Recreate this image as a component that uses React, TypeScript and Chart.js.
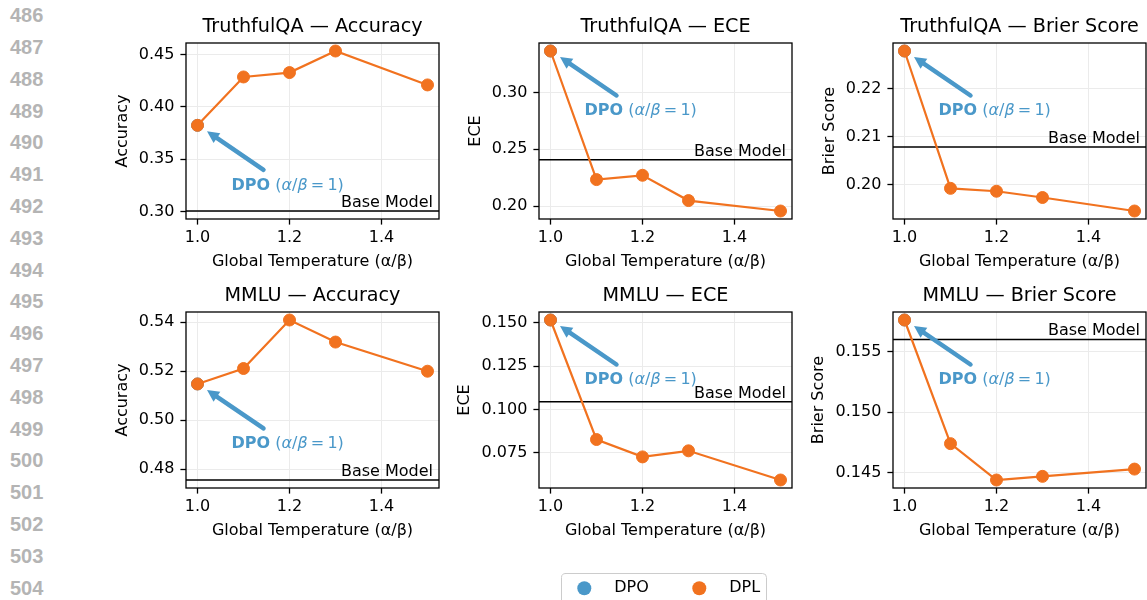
import React, { useEffect, useRef } from "react";
import { Chart, registerables } from "chart.js";

Chart.register(...registerables);

// ---------------- data ----------------
const TEMPERATURES = [1.0, 1.1, 1.2, 1.3, 1.5];
const X_TICKS = [1.0, 1.2, 1.4];
const X_LABEL = "Global Temperature (α/β)";

const DATASET_NAMES = ["TruthfulQA", "MMLU"];
const METRIC_NAMES = ["Accuracy", "ECE", "Brier Score"];
const SERIES_NAMES = ["DPO", "DPL"];

const TQA_ACCURACY = [0.3824, 0.4286, 0.4328, 0.4534, 0.421];
const TQA_ECE = [0.3367, 0.2233, 0.2271, 0.2048, 0.1956];
const TQA_BRIER = [0.2278, 0.1993, 0.1987, 0.1974, 0.1946];
const MMLU_ACCURACY = [0.5148, 0.5211, 0.5409, 0.5319, 0.52];
const MMLU_ECE = [0.1515, 0.0827, 0.0727, 0.0762, 0.0594];
const MMLU_BRIER = [0.1576, 0.1474, 0.1444, 0.1447, 0.1453];

// base model: [accuracy, ece, brier]
const BASE_TQA = [0.3006, 0.2409, 0.2079];
const BASE_MMLU = [0.4756, 0.1044, 0.156];

const TICKS_TQA_ACCURACY = [0.3, 0.35, 0.4, 0.45];
const TICKS_TQA_ECE = [0.2, 0.25, 0.3];
const TICKS_TQA_BRIER = [0.2, 0.21, 0.22];
const TICKS_MMLU_ACCURACY = [0.48, 0.5, 0.52, 0.54];
const TICKS_MMLU_ECE = [0.075, 0.1, 0.125, 0.15];
const TICKS_MMLU_BRIER = [0.145, 0.15, 0.155];

const LINE_NUMBERS = [486, 487, 488, 489, 490, 491, 492, 493, 494, 495, 496, 497, 498, 499, 500, 501, 502, 503, 504];

// ---------------- style / layout ----------------
const FONT = "'DejaVu Sans', sans-serif";
const ORANGE = "#f1721f";
const BLUE = "#4a98c9";
const GRID = "#ebebeb";

const PLOT_W = 256;
const PLOT_H = 176;
const YW = 96; // y-axis box width
const TB = 32; // title block height
const XH = 56; // x-axis box height
const RP = 4;
const COL_LEFT = [186, 539, 893];
const ROW_TOP = [43, 312];

type PanelCfg = {
  row: number;
  col: number;
  values: number[];
  base: number;
  yticks: number[];
  decimals: number;
  legend: boolean;
};

const PANELS: PanelCfg[] = [
  { row: 0, col: 0, values: TQA_ACCURACY, base: BASE_TQA[0], yticks: TICKS_TQA_ACCURACY, decimals: 2, legend: false },
  { row: 0, col: 1, values: TQA_ECE, base: BASE_TQA[1], yticks: TICKS_TQA_ECE, decimals: 2, legend: false },
  { row: 0, col: 2, values: TQA_BRIER, base: BASE_TQA[2], yticks: TICKS_TQA_BRIER, decimals: 2, legend: false },
  { row: 1, col: 0, values: MMLU_ACCURACY, base: BASE_MMLU[0], yticks: TICKS_MMLU_ACCURACY, decimals: 2, legend: false },
  { row: 1, col: 1, values: MMLU_ECE, base: BASE_MMLU[1], yticks: TICKS_MMLU_ECE, decimals: 3, legend: true },
  { row: 1, col: 2, values: MMLU_BRIER, base: BASE_MMLU[2], yticks: TICKS_MMLU_BRIER, decimals: 3, legend: false },
];

function measure(text: string, font: string): number {
  const c = document.createElement("canvas").getContext("2d")!;
  c.font = font;
  return c.measureText(text).width;
}

const overlayPlugin = {
  id: "overlay",
  afterDatasetsDraw(chart: any, _args: any, opts: any) {
    const { ctx, chartArea: a, scales } = chart;
    const xs = scales.x;
    const ys = scales.y;
    ctx.save();

    // Base model label
    const by = ys.getPixelForValue(opts.base);
    ctx.font = `16px ${FONT}`;
    ctx.fillStyle = "#000";
    ctx.textAlign = "right";
    ctx.textBaseline = "alphabetic";
    ctx.fillText("Base Model", a.right - 6, by - 4);

    // DPO annotation arrow
    const px = xs.getPixelForValue(opts.dpoX);
    const py = ys.getPixelForValue(opts.dpoY);
    const tail = { x: px + 66, y: py + 44.5 };
    const tip = { x: px + 9.5, y: py + 6 };
    const dx = tip.x - tail.x;
    const dy = tip.y - tail.y;
    const len = Math.hypot(dx, dy);
    const ux = dx / len;
    const uy = dy / len;
    const headLen = 12;
    const headHalf = 6;
    const bx = tip.x - ux * headLen;
    const bY = tip.y - uy * headLen;
    ctx.strokeStyle = BLUE;
    ctx.fillStyle = BLUE;
    ctx.lineWidth = 4.5;
    ctx.lineCap = "round";
    ctx.beginPath();
    ctx.moveTo(tail.x, tail.y);
    ctx.lineTo(bx + ux * 2, bY + uy * 2);
    ctx.stroke();
    ctx.beginPath();
    ctx.moveTo(tip.x, tip.y);
    ctx.lineTo(bx - uy * headHalf, bY + ux * headHalf);
    ctx.lineTo(bx + uy * headHalf, bY - ux * headHalf);
    ctx.closePath();
    ctx.fill();

    // DPO annotation text
    const parts = [
      { t: "DPO", f: `bold 16px ${FONT}` },
      { t: " (", f: `16px ${FONT}` },
      { t: "α", f: `italic 16px ${FONT}` },
      { t: "/", f: `16px ${FONT}` },
      { t: "β", f: `italic 16px ${FONT}` },
      { t: "\u2009=\u20091)", f: `16px ${FONT}` },
    ];
    let tx = px + 34;
    const ty = py + 60;
    ctx.textAlign = "left";
    ctx.textBaseline = "middle";
    for (const p of parts) {
      ctx.font = p.f;
      ctx.fillText(p.t, tx, ty);
      tx += ctx.measureText(p.t).width;
    }

    // frame (all four spines)
    ctx.strokeStyle = "#000";
    ctx.lineWidth = 1.3;
    ctx.strokeRect(a.left, a.top, a.right - a.left, a.bottom - a.top);

    // figure legend
    if (opts.legend) {
      const lx = a.left + 22.5;
      const ly = a.bottom + 85.5;
      const w = 205;
      const h = 34;
      const r = 4;
      ctx.beginPath();
      ctx.moveTo(lx + r, ly);
      ctx.lineTo(lx + w - r, ly);
      ctx.quadraticCurveTo(lx + w, ly, lx + w, ly + r);
      ctx.lineTo(lx + w, ly + h - r);
      ctx.quadraticCurveTo(lx + w, ly + h, lx + w - r, ly + h);
      ctx.lineTo(lx + r, ly + h);
      ctx.quadraticCurveTo(lx, ly + h, lx, ly + h - r);
      ctx.lineTo(lx, ly + r);
      ctx.quadraticCurveTo(lx, ly, lx + r, ly);
      ctx.closePath();
      ctx.fillStyle = "rgba(255,255,255,0.8)";
      ctx.fill();
      ctx.strokeStyle = "#cccccc";
      ctx.lineWidth = 1;
      ctx.stroke();
      const items = chart.data.datasets.filter((d: any) => SERIES_NAMES.includes(d.label));
      items.sort((p: any, q: any) => SERIES_NAMES.indexOf(p.label) - SERIES_NAMES.indexOf(q.label));
      items.forEach((d: any, i: number) => {
        const mx = lx + 22.8 + i * 115;
        const my = ly + 14.8;
        ctx.beginPath();
        ctx.arc(mx, my, 7, 0, Math.PI * 2);
        ctx.fillStyle = d.backgroundColor;
        ctx.fill();
        ctx.font = `16px ${FONT}`;
        ctx.fillStyle = "#000";
        ctx.textAlign = "left";
        ctx.textBaseline = "middle";
        ctx.fillText(d.label, mx + 30, my);
      });
    }
    ctx.restore();
  },
};

function buildConfig(p: PanelCfg, extraBottom: number): any {
  const allY = [...p.values, p.base];
  const lo = Math.min(...allY);
  const hi = Math.max(...allY);
  const yPad = (hi - lo) * 0.05;
  const xlo = Math.min(...TEMPERATURES);
  const xhi = Math.max(...TEMPERATURES);
  const xPad = (xhi - xlo) * 0.05;

  const tickFont = `16px ${FONT}`;
  const labelW = Math.max(...p.yticks.map((v) => measure(v.toFixed(p.decimals), tickFont)));
  const yTitlePad = YW - 9.6 - 28 - labelW;

  const title = `${DATASET_NAMES[p.row]} — ${METRIC_NAMES[p.col]}`;

  return {
    type: "line",
    data: {
      datasets: [
        {
          label: SERIES_NAMES[1],
          data: TEMPERATURES.map((t, i) => ({ x: t, y: p.values[i] })),
          borderColor: ORANGE,
          backgroundColor: ORANGE,
          borderWidth: 2.2,
          pointRadius: 6,
          pointHoverRadius: 6,
          pointBorderWidth: 1,
          pointBorderColor: ORANGE,
          pointBackgroundColor: ORANGE,
          order: 0,
          tension: 0,
        },
        {
          label: SERIES_NAMES[0],
          data: [{ x: TEMPERATURES[0], y: p.values[0] }],
          borderColor: BLUE,
          backgroundColor: BLUE,
          showLine: false,
          pointRadius: 6,
          pointBorderWidth: 1,
          pointBorderColor: BLUE,
          pointBackgroundColor: BLUE,
          order: 1,
        },
        {
          label: "Base Model",
          data: [
            { x: xlo - xPad, y: p.base },
            { x: xhi + xPad, y: p.base },
          ],
          borderColor: "#000",
          backgroundColor: "#000",
          borderWidth: 1.5,
          pointRadius: 0,
          order: 2,
        },
      ],
    },
    options: {
      animation: false,
      responsive: false,
      devicePixelRatio: 1,
      events: [],
      layout: { padding: { left: 0, top: 0, right: RP, bottom: extraBottom } },
      plugins: {
        legend: { display: false },
        tooltip: { enabled: false },
        title: {
          display: true,
          text: title,
          fullSize: false,
          color: "#000",
          font: { family: FONT, size: 19.2, weight: "normal", lineHeight: 1.2 },
          padding: { top: 4, bottom: TB - 4 - 19.2 * 1.2 },
        },
        overlay: {
          base: p.base,
          dpoX: TEMPERATURES[0],
          dpoY: p.values[0],
          legend: p.legend,
        },
      },
      scales: {
        x: {
          type: "linear",
          position: "bottom",
          min: xlo - xPad,
          max: xhi + xPad,
          afterBuildTicks: (s: any) => {
            s.ticks = X_TICKS.map((v) => ({ value: v }));
          },
          afterFit: (s: any) => {
            s.height = XH;
          },
          ticks: {
            autoSkip: false,
            maxRotation: 0,
            color: "#000",
            padding: 3.5,
            font: { family: FONT, size: 16 },
            callback: (v: any) => Number(v).toFixed(1),
          },
          grid: {
            color: GRID,
            lineWidth: 1,
            tickColor: "#000",
            tickLength: 5.6,
            tickWidth: 1.3,
          },
          border: { display: false },
          title: {
            display: true,
            text: X_LABEL,
            color: "#000",
            font: { family: FONT, size: 16 },
            padding: { top: 0, bottom: 3.7 },
          },
        },
        y: {
          type: "linear",
          position: "left",
          min: lo - yPad,
          max: hi + yPad,
          afterBuildTicks: (s: any) => {
            s.ticks = p.yticks.map((v) => ({ value: v }));
          },
          afterFit: (s: any) => {
            s.width = YW;
          },
          ticks: {
            autoSkip: false,
            color: "#000",
            padding: 6,
            font: { family: FONT, size: 16 },
            callback: (v: any) => Number(v).toFixed(p.decimals),
          },
          grid: {
            color: GRID,
            lineWidth: 1,
            tickColor: "#000",
            tickLength: 5.6,
            tickWidth: 1.3,
          },
          border: { display: false },
          title: {
            display: true,
            text: METRIC_NAMES[p.col],
            color: "#000",
            font: { family: FONT, size: 16 },
            padding: { top: yTitlePad, bottom: 0 },
          },
        },
      },
    },
    plugins: [overlayPlugin],
  };
}

function Panel({ cfg }: { cfg: PanelCfg }) {
  const ref = useRef<HTMLCanvasElement>(null);
  const left = COL_LEFT[cfg.col] - YW;
  const top = ROW_TOP[cfg.row] - TB;
  const width = YW + PLOT_W + RP;
  const extra = cfg.legend ? 600 - (ROW_TOP[cfg.row] + PLOT_H + XH) : 0;
  const height = TB + PLOT_H + XH + extra;

  useEffect(() => {
    const chart = new Chart(ref.current!, buildConfig(cfg, extra));
    return () => chart.destroy();
  }, [cfg, extra]);

  return (
    <canvas
      ref={ref}
      width={width}
      height={height}
      style={{ position: "absolute", left, top, width, height }}
    />
  );
}

export default function App() {
  return (
    <div
      style={{
        position: "fixed",
        left: 0,
        top: 0,
        width: 1147,
        height: 600,
        overflow: "hidden",
        background: "#fff",
      }}
    >
      {LINE_NUMBERS.map((n, i) => (
        <div
          key={n}
          style={{
            position: "absolute",
            left: 10,
            top: 15 + i * 31.8 - 9.8,
            fontFamily: "'Liberation Sans', Arial, sans-serif",
            fontWeight: "bold",
            fontSize: 20,
            lineHeight: "20px",
            color: "#b4b4b4",
          }}
        >
          {n}
        </div>
      ))}
      {PANELS.map((p, i) => (
        <Panel key={i} cfg={p} />
      ))}
    </div>
  );
}
